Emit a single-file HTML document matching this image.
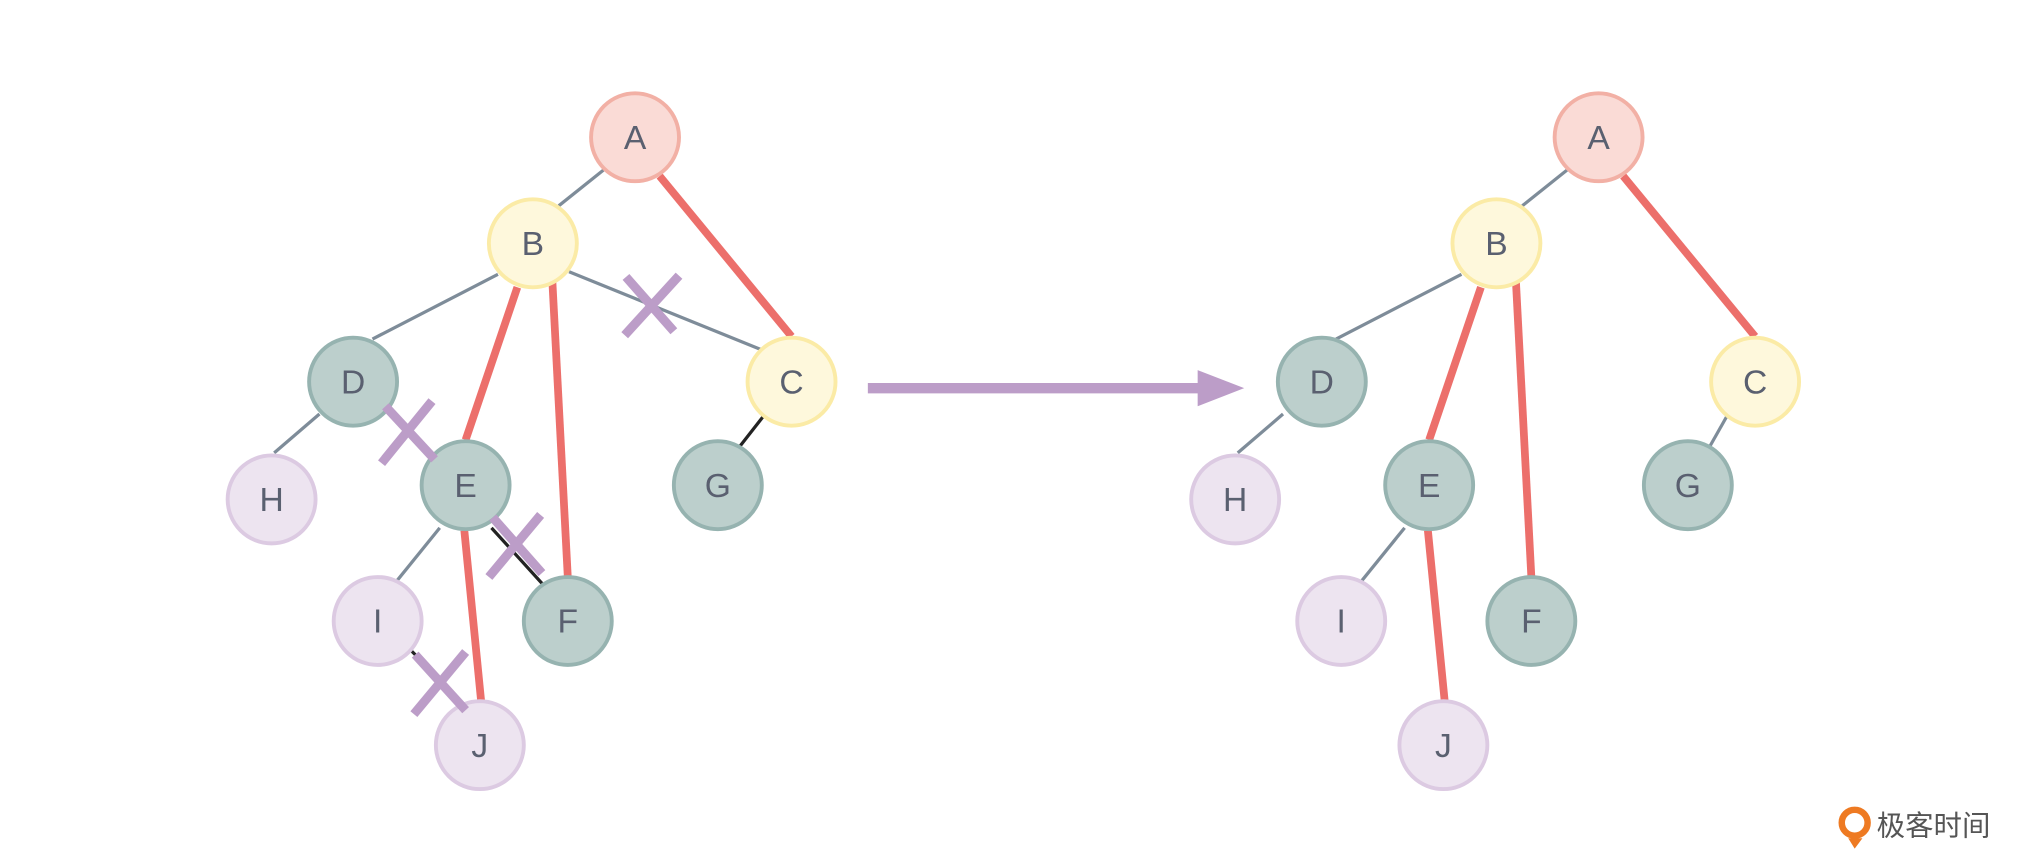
<!DOCTYPE html>
<html><head><meta charset="utf-8"><style>html,body{margin:0;padding:0;background:#fff}svg{display:block}</style></head><body>
<svg width="2028" height="863" viewBox="0 0 1568 667" xmlns="http://www.w3.org/2000/svg" font-family="Liberation Sans, sans-serif">
<rect width="1568" height="667" fill="#fff"/>
<g stroke-linecap="butt">
<!-- left edges -->
<line x1="467" y1="131" x2="432" y2="159" stroke="#7E8C99" stroke-width="2.5"/>
<line x1="440" y1="210" x2="588" y2="270" stroke="#7E8C99" stroke-width="2.5"/>
<line x1="385" y1="212" x2="288" y2="262" stroke="#7E8C99" stroke-width="2.5"/>
<line x1="247" y1="320" x2="212" y2="350" stroke="#7E8C99" stroke-width="2.5"/>
<line x1="340" y1="408" x2="306" y2="450" stroke="#7E8C99" stroke-width="2.5"/>
<line x1="380" y1="408" x2="420" y2="452" stroke="#222" stroke-width="2.5"/>
<line x1="318" y1="503" x2="345" y2="530" stroke="#222" stroke-width="2.5"/>
<line x1="590" y1="322" x2="572" y2="345" stroke="#222" stroke-width="2.5"/>
<line x1="510" y1="136" x2="612" y2="260" stroke="#EC6F6B" stroke-width="6"/>
<line x1="400" y1="222" x2="360" y2="340" stroke="#EC6F6B" stroke-width="6"/>
<line x1="427" y1="216" x2="439" y2="446" stroke="#EC6F6B" stroke-width="6"/>
<line x1="359" y1="410" x2="372" y2="542" stroke="#EC6F6B" stroke-width="6"/>
<!-- right edges -->
<line x1="1212" y1="131" x2="1177" y2="159" stroke="#7E8C99" stroke-width="2.5"/>
<line x1="1130" y1="212" x2="1033" y2="262" stroke="#7E8C99" stroke-width="2.5"/>
<line x1="992" y1="320" x2="957" y2="350" stroke="#7E8C99" stroke-width="2.5"/>
<line x1="1086" y1="408" x2="1052" y2="450" stroke="#7E8C99" stroke-width="2.5"/>
<line x1="1335" y1="322" x2="1322" y2="345" stroke="#7E8C99" stroke-width="2.5"/>
<line x1="1255" y1="136" x2="1357" y2="260" stroke="#EC6F6B" stroke-width="6"/>
<line x1="1145" y1="222" x2="1105" y2="340" stroke="#EC6F6B" stroke-width="6"/>
<line x1="1172" y1="216" x2="1184" y2="446" stroke="#EC6F6B" stroke-width="6"/>
<line x1="1104" y1="410" x2="1117" y2="542" stroke="#EC6F6B" stroke-width="6"/>
</g>
<g stroke-width="3" font-size="26" text-anchor="middle" fill="#5A6070">
<circle cx="491" cy="106" r="34" fill="#FADBD6" stroke="#F2B0A5"/>
<circle cx="412" cy="188" r="34" fill="#FEF8DC" stroke="#FBEBA6"/>
<circle cx="612" cy="295" r="34" fill="#FEF8DC" stroke="#FBEBA6"/>
<circle cx="273" cy="295" r="34" fill="#BCCFCC" stroke="#96B3B0"/>
<circle cx="360" cy="375" r="34" fill="#BCCFCC" stroke="#96B3B0"/>
<circle cx="555" cy="375" r="34" fill="#BCCFCC" stroke="#96B3B0"/>
<circle cx="439" cy="480" r="34" fill="#BCCFCC" stroke="#96B3B0"/>
<circle cx="210" cy="386" r="34" fill="#EDE4F0" stroke="#DCCAE2"/>
<circle cx="292" cy="480" r="34" fill="#EDE4F0" stroke="#DCCAE2"/>
<circle cx="371" cy="576" r="34" fill="#EDE4F0" stroke="#DCCAE2"/>
<circle cx="1236" cy="106" r="34" fill="#FADBD6" stroke="#F2B0A5"/>
<circle cx="1157" cy="188" r="34" fill="#FEF8DC" stroke="#FBEBA6"/>
<circle cx="1357" cy="295" r="34" fill="#FEF8DC" stroke="#FBEBA6"/>
<circle cx="1022" cy="295" r="34" fill="#BCCFCC" stroke="#96B3B0"/>
<circle cx="1105" cy="375" r="34" fill="#BCCFCC" stroke="#96B3B0"/>
<circle cx="1305" cy="375" r="34" fill="#BCCFCC" stroke="#96B3B0"/>
<circle cx="1184" cy="480" r="34" fill="#BCCFCC" stroke="#96B3B0"/>
<circle cx="955" cy="386" r="34" fill="#EDE4F0" stroke="#DCCAE2"/>
<circle cx="1037" cy="480" r="34" fill="#EDE4F0" stroke="#DCCAE2"/>
<circle cx="1116" cy="576" r="34" fill="#EDE4F0" stroke="#DCCAE2"/>
<g stroke="none">
<text x="491" y="115">A</text><text x="412" y="197">B</text><text x="612" y="304">C</text>
<text x="273" y="304">D</text><text x="360" y="384">E</text><text x="555" y="384">G</text>
<text x="439" y="489">F</text><text x="210" y="395">H</text><text x="292" y="489">I</text><text x="371" y="585">J</text>
<text x="1236" y="115">A</text><text x="1157" y="197">B</text><text x="1357" y="304">C</text>
<text x="1022" y="304">D</text><text x="1105" y="384">E</text><text x="1305" y="384">G</text>
<text x="1184" y="489">F</text><text x="955" y="395">H</text><text x="1037" y="489">I</text><text x="1116" y="585">J</text>
</g></g>
<!-- X marks -->
<g stroke="#BC9DC8" stroke-width="7">
<line x1="484" y1="214" x2="521" y2="256"/><line x1="525" y1="213" x2="483" y2="259"/>
<line x1="298" y1="314" x2="336" y2="355"/><line x1="334" y1="310" x2="295" y2="358"/>
<line x1="381" y1="400" x2="419" y2="443"/><line x1="418" y1="398" x2="378" y2="446"/>
<line x1="321" y1="506" x2="360" y2="549"/><line x1="360" y1="504" x2="320" y2="552"/>
</g>
<!-- arrow -->
<line x1="671" y1="300" x2="932" y2="300" stroke="#BC9DC8" stroke-width="8"/>
<polygon points="926,286 962,300 926,314" fill="#BC9DC8"/>
<!-- logo -->
<circle cx="1434" cy="636" r="10" fill="none" stroke="#EE7A22" stroke-width="5"/>
<path d="M1429 648 L1434 656 L1440 648 Z" fill="#EE7A22"/>
<text x="1451" y="646" font-size="22" fill="#555" font-family="Liberation Sans, Noto Sans CJK SC, sans-serif">极客时间</text>
</svg>
</body></html>
